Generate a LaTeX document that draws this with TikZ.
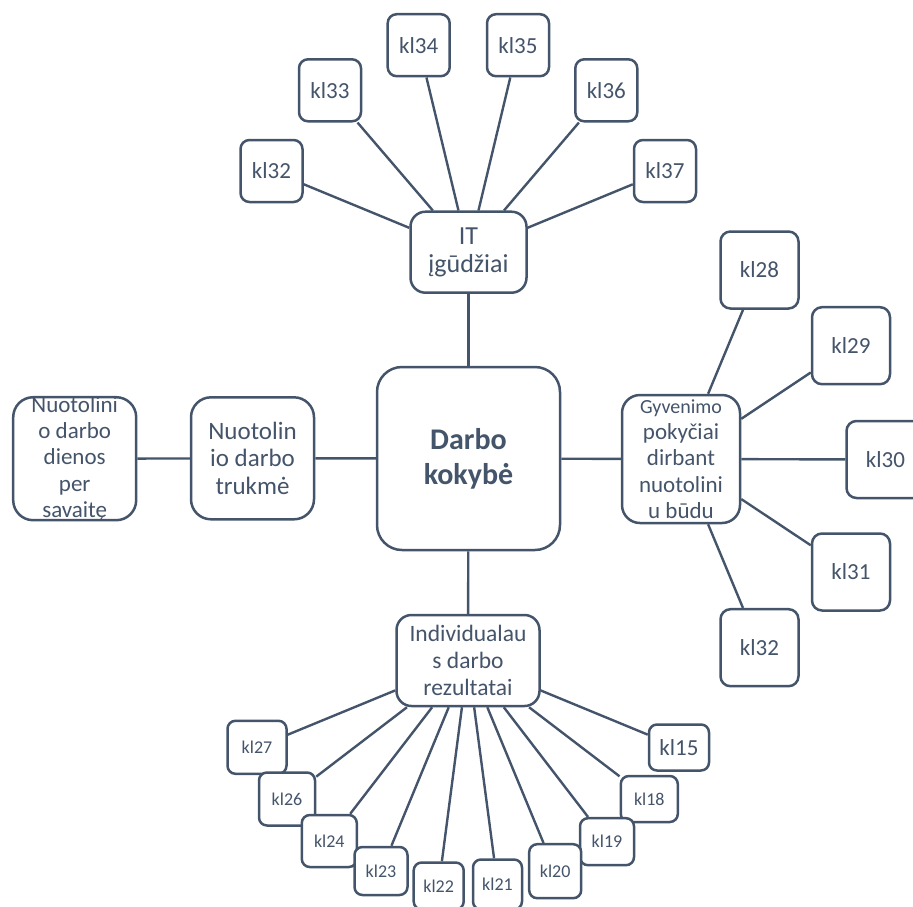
\documentclass[tikz,border=0pt]{standalone}
\usepackage{fontspec}
\setmainfont{Carlito}
\usetikzlibrary{backgrounds}
\definecolor{dk}{RGB}{68,84,106}
\newcommand{\fsz}[2]{\fontsize{#1}{#2}\selectfont}
\begin{document}
\begin{tikzpicture}[x=1pt,y=-1pt,
  base/.style={draw=dk, line width=2.5pt, fill=white, text=dk, inner sep=0pt, align=center, rounded corners=9pt},
  klA/.style={base, minimum width=62pt, minimum height=62pt, font=\fsz{23}{27}},
  klB/.style={base, minimum width=78pt, minimum height=77pt, rounded corners=10pt, font=\fsz{23}{27}},
  klC/.style={base, rounded corners=8pt, font=\fsz{18}{22}},
  conn/.style={draw=dk, line width=2.4pt}]
\useasboundingbox (0,0) rectangle (913,906);

% centre
\node[base, minimum width=183pt, minimum height=183pt, rounded corners=25pt, font=\bfseries\fsz{30}{35}] (c) at (468.5,458.5) {Darbo\\kokybė};

% top
\node[base, minimum width=116pt, minimum height=81pt, rounded corners=15pt, font=\fsz{26}{28.5}] (it) at (468.5,252.2) {IT\\įgūdžiai};
\node[klA] (kl32a) at (271.5,171) {kl32};
\node[klA] (kl33) at (330,90.3) {kl33};
\node[klA] (kl34) at (418.7,45.2) {kl34};
\node[klA] (kl35) at (518,45.2) {kl35};
\node[klA] (kl36) at (606.3,90.3) {kl36};
\node[klA] (kl37) at (665,171) {kl37};

% right
\node[base, minimum width=118pt, minimum height=128pt, rounded corners=18pt, font=\fsz{23}{26.3}] (gyv) at (681,459) {{\fsz{20}{26.3}Gyvenimo}\\pokyčiai\\dirbant\\nuotolini\\u būdu};
\node[klB] (kl28) at (759.5,270) {kl28};
\node[klB] (kl29) at (851,345.7) {kl29};
\node[klB] (kl30) at (885.5,459.5) {kl30};
\node[klB] (kl31) at (851,572) {kl31};
\node[klB] (kl32b) at (759.5,647.7) {kl32};

% left
\node[base, minimum width=123pt, minimum height=122pt, rounded corners=20pt, font=\fsz{25}{27.2}] (trk) at (252.5,458.3) {Nuotolin\\io darbo\\trukmė};
\node[base, minimum width=123pt, minimum height=123pt, rounded corners=20pt] (dien) at (74.7,458.7) {};
\node[text=dk, align=center, inner sep=0pt, font=\fsz{23}{26.3}] (dient) at (dien.center) {Nuotolini\\o darbo\\dienos\\per\\savaitę};

% bottom
\node[base, minimum width=143pt, minimum height=91pt, rounded corners=15pt, font=\fsz{23.5}{26.7}] (ind) at (468,660.5) {Individualau\\s darbo\\rezultatai};
\node[klC, minimum width=60pt, minimum height=46pt, font=\fsz{23}{27}] (kl15) at (679,747.5) {kl15};
\node[klC, minimum width=57pt, minimum height=46pt] (kl18) at (649.3,799) {kl18};
\node[klC, minimum width=54pt, minimum height=47pt] (kl19) at (607,841.7) {kl19};
\node[klC, minimum width=52pt, minimum height=54pt] (kl20) at (555.2,871.2) {kl20};
\node[klC, minimum width=49pt, minimum height=50pt] (kl21) at (497.5,884.5) {kl21};
\node[klC, minimum width=50pt, minimum height=47pt] (kl22) at (438.7,886) {kl22};
\node[klC, minimum width=59pt, minimum height=53pt] (kl27) at (257,747.3) {kl27};
\node[klC, minimum width=56pt, minimum height=53pt] (kl26) at (287,799) {kl26};
\node[klC, minimum width=55pt, minimum height=52pt] (kl24) at (329.3,841) {kl24};
\node[klC, minimum width=53pt, minimum height=48pt] (kl23) at (381,871) {kl23};

\begin{scope}[on background layer]
\draw[conn] (c) -- (it);
\draw[conn] (c) -- (gyv);
\draw[conn] (c) -- (trk);
\draw[conn] (trk) -- (dien);
\draw[conn] (c) -- (ind);
\foreach \k in {kl32a,kl33,kl34,kl35,kl36,kl37} \draw[conn] (it) -- (\k);
\foreach \k in {kl28,kl29,kl30,kl31,kl32b} \draw[conn] (gyv) -- (\k);
\foreach \k in {kl15,kl18,kl19,kl20,kl21,kl22,kl23,kl24,kl26,kl27} \draw[conn] (ind) -- (\k);
\end{scope}
\end{tikzpicture}
\end{document}
